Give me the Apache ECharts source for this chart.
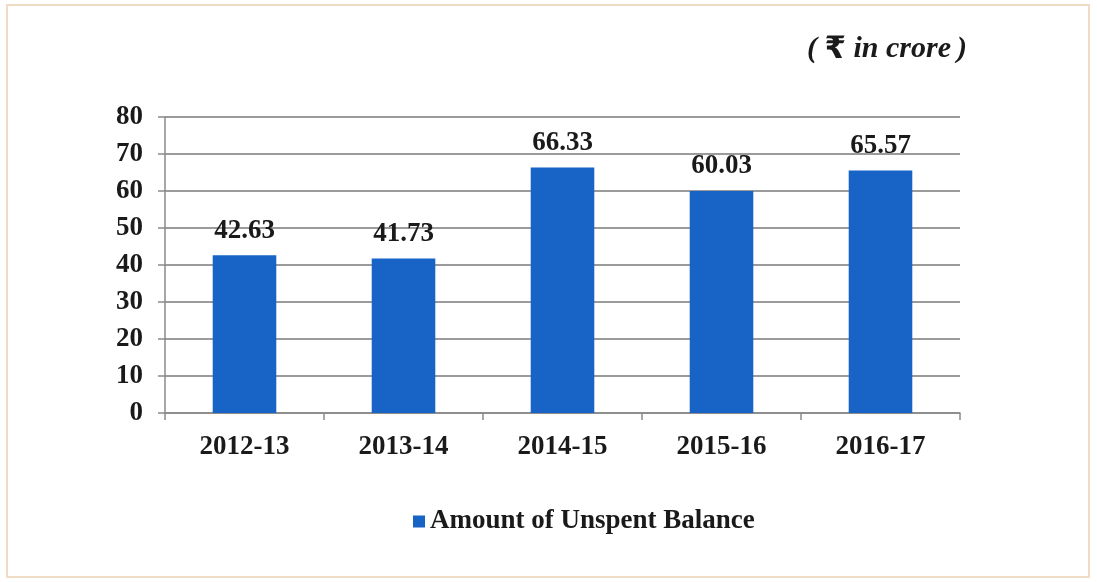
<!DOCTYPE html>
<html>
<head>
<meta charset="utf-8">
<script src="https://cdn.jsdelivr.net/npm/echarts@6/dist/echarts.min.js"></script>
<style>
  html, body { margin: 0; padding: 0; background: #ffffff; }
  #frame { position: absolute; left: 6px; top: 4px; width: 1084px; height: 574px; border: 2px solid #f0dcc6; box-sizing: border-box; }
  #chart { position: absolute; left: 0; top: 0; width: 1097px; height: 582px; }
</style>
</head>
<body>
<div id="frame"></div>
<div id="chart"></div>
<script>
const years = ['2012-13', '2013-14', '2014-15', '2015-16', '2016-17'];
const unspentBalance = [42.63, 41.73, 66.33, 60.03, 65.57];
const seriesName = 'Amount of Unspent Balance';

const serif = '"Liberation Serif", "Times New Roman", serif';
const chart = echarts.init(document.getElementById('chart'), null, { renderer: 'canvas' });

chart.setOption({
  backgroundColor: 'transparent',
  animation: false,
  title: {
    text: '( {r|\u20B9} in crore\u2009)',
    right: 125,
    top: 29,
    textStyle: {
      fontFamily: serif,
      fontSize: 30,
      fontWeight: 'bold',
      fontStyle: 'italic',
      color: '#1a1a1a',
      rich: {
        r: { fontFamily: '"DejaVu Sans", "Noto Sans", sans-serif', fontSize: 31, fontWeight: 'bold', fontStyle: 'normal', color: '#1a1a1a' }
      }
    }
  },
  grid: { left: 165, right: 137, top: 117, bottom: 169, containLabel: false },
  legend: {
    bottom: 42,
    left: 408,
    itemWidth: 12,
    itemHeight: 12,
    itemGap: 10,
    icon: 'rect',
    textStyle: { fontFamily: serif, fontSize: 27, fontWeight: 'bold', color: '#1a1a1a' },
    data: [seriesName]
  },
  xAxis: {
    type: 'category',
    data: years,
    axisLine: { lineStyle: { color: '#8a8a8a', width: 1.5 } },
    axisTick: { show: true, length: 7, inside: false, lineStyle: { color: '#8a8a8a', width: 1.5 } },
    axisLabel: { fontFamily: serif, fontSize: 27, fontWeight: 'bold', color: '#1a1a1a', margin: 21 }
  },
  yAxis: {
    type: 'value',
    min: 0,
    max: 80,
    interval: 10,
    axisLine: { show: true, lineStyle: { color: '#8a8a8a', width: 1.5 } },
    axisTick: { show: true, length: 7, lineStyle: { color: '#8a8a8a', width: 1.5 } },
    axisLabel: { fontFamily: serif, fontSize: 27, fontWeight: 'bold', color: '#1a1a1a', margin: 22 },
    splitLine: { show: true, lineStyle: { color: '#7a7a7a', width: 1.5 } }
  },
  series: [{
    name: seriesName,
    type: 'bar',
    data: unspentBalance,
    barWidth: '40%',
    itemStyle: { color: '#1763c6' },
    label: {
      show: true,
      position: 'top',
      distance: 11,
      fontFamily: serif,
      fontSize: 27,
      fontWeight: 'bold',
      color: '#1a1a1a',
      formatter: p => p.value.toFixed(2)
    }
  }]
});
</script>
</body>
</html>
